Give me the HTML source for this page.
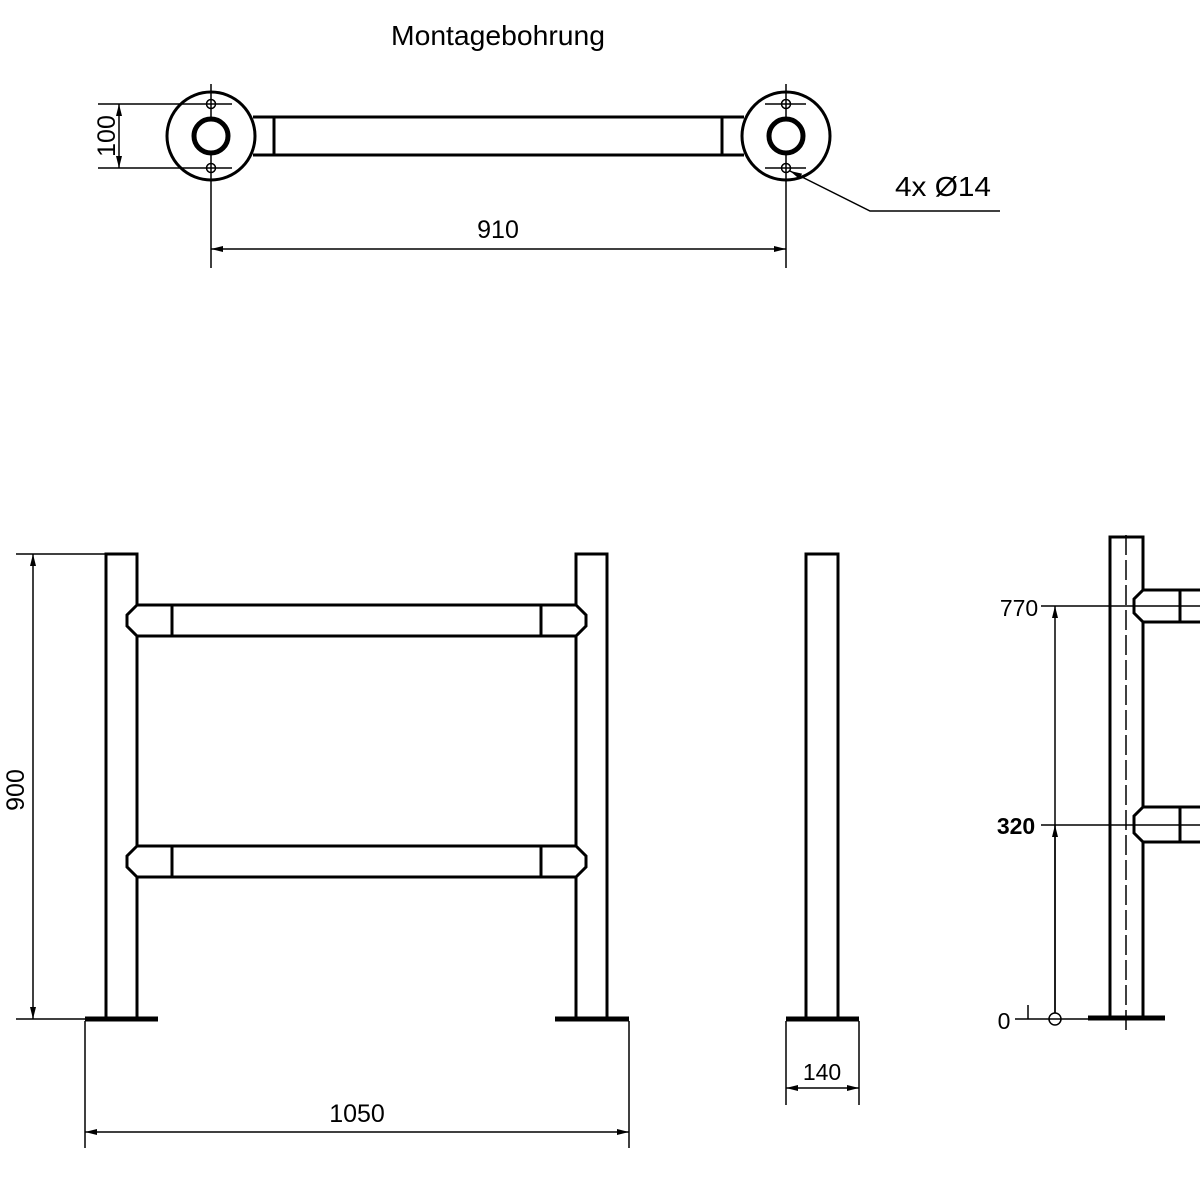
<!DOCTYPE html>
<html><head><meta charset="utf-8"><style>body{margin:0;background:#fff}svg{display:block}text{font-family:"Liberation Sans",sans-serif;fill:#000}</style></head><body>
<svg width="1200" height="1200" viewBox="0 0 1200 1200" xmlns="http://www.w3.org/2000/svg">
<defs>
<marker id="a" viewBox="0 0 12 6" refX="12" refY="3" markerWidth="12" markerHeight="6" orient="auto-start-reverse" markerUnits="userSpaceOnUse"><path d="M0,0L12,3L0,6z" fill="#000"/></marker>
</defs>
<g fill="none" stroke="#000">
<!-- TOP VIEW -->
<text x="498" y="45" font-size="28" text-anchor="middle" stroke="none" textLength="214" lengthAdjust="spacingAndGlyphs">Montagebohrung</text>
<g stroke-width="3">
<circle cx="211" cy="136" r="44"/><circle cx="786" cy="136" r="44"/>
<path d="M253,117H744M253,155H744M274,117V155M722,117V155"/>
</g>
<circle cx="211" cy="136" r="17" stroke-width="5"/><circle cx="786" cy="136" r="17" stroke-width="5"/>
<g stroke-width="1.5">
<circle cx="211" cy="104" r="4.5"/><circle cx="211" cy="168" r="4.5"/>
<circle cx="786" cy="104" r="4.5"/><circle cx="786" cy="168" r="4.5"/>
<path d="M211,84V120M211,152V268M786,84V120M786,152V268"/>
<path d="M98,104H232M98,168H232M765,104H806M765,168H806"/>
<path d="M119,104V168" marker-start="url(#a)" marker-end="url(#a)"/>
<path d="M211,249H786" marker-start="url(#a)" marker-end="url(#a)"/>
<path d="M1000,211H870L790,171" marker-end="url(#a)"/>
</g>
<text x="106" y="136" font-size="25" text-anchor="middle" transform="rotate(-90 106 136)" dy="9" stroke="none">100</text>
<text x="498" y="238" font-size="25" text-anchor="middle" stroke="none">910</text>
<text x="943" y="196" font-size="28" text-anchor="middle" stroke="none" textLength="96" lengthAdjust="spacingAndGlyphs">4x Ø14</text>

<!-- FRONT VIEW -->
<g stroke-width="3">
<path d="M106,1019V554H137V605M137,636V846M137,877V1019"/>
<path d="M607,1019V554H576V605M576,636V846M576,877V1019"/>
<path d="M137,605L127,615V626L137,636M576,605L586,615V626L576,636"/>
<path d="M137,605H576M137,636H576M172,605V636M541,605V636"/>
<path d="M137,846L127,856V867L137,877M576,846L586,856V867L576,877"/>
<path d="M137,846H576M137,877H576M172,846V877M541,846V877"/>
<path d="M806,1019V554H838V1019"/>
</g>
<g stroke-width="5">
<path d="M85,1019H158M555,1019H629M786,1019H859"/>
</g>
<g stroke-width="1.5">
<path d="M16,554H106M16,1019H85"/>
<path d="M33,554V1019" marker-start="url(#a)" marker-end="url(#a)"/>
<path d="M85,1021V1148M629,1021V1148"/>
<path d="M85,1132H629" marker-start="url(#a)" marker-end="url(#a)"/>
<path d="M786,1021V1105M859,1021V1105"/>
<path d="M786,1088H859" marker-start="url(#a)" marker-end="url(#a)"/>
</g>
<text x="15" y="790" font-size="25" text-anchor="middle" transform="rotate(-90 15 790)" dy="9" stroke="none">900</text>
<text x="357" y="1122" font-size="25" text-anchor="middle" stroke="none">1050</text>
<text x="822" y="1080" font-size="23" text-anchor="middle" stroke="none">140</text>

<!-- SIDE VIEW -->
<g stroke-width="3">
<path d="M1110,1017V537H1143V590M1143,622V807M1143,842V1017"/>
<path d="M1143,590H1200M1143,622H1200M1180,590V622"/>
<path d="M1143,590L1134,599V613L1143,622"/>
<path d="M1143,807H1200M1143,842H1200M1180,807V842"/>
<path d="M1143,807L1134,816V833L1143,842"/>
</g>
<path d="M1088,1018H1165" stroke-width="5"/>
<path d="M1126,535V1032" stroke-width="1.5" stroke-dasharray="20,5"/>
<g stroke-width="1.5">
<path d="M1041,606H1200M1041,825H1200M1015,1019H1088M1028,1005V1019"/>
<path d="M1055,1013V606" marker-end="url(#a)"/>
<path d="M1055,1013V825" marker-end="url(#a)"/>
<circle cx="1055" cy="1019" r="6"/>
</g>
<text x="1019" y="616" font-size="23" text-anchor="middle" stroke="none">770</text>
<text x="1016" y="834" font-size="23" text-anchor="middle" font-weight="bold" stroke="none">320</text>
<text x="1004" y="1029" font-size="23" text-anchor="middle" stroke="none">0</text>
</g>
</svg>
</body></html>
